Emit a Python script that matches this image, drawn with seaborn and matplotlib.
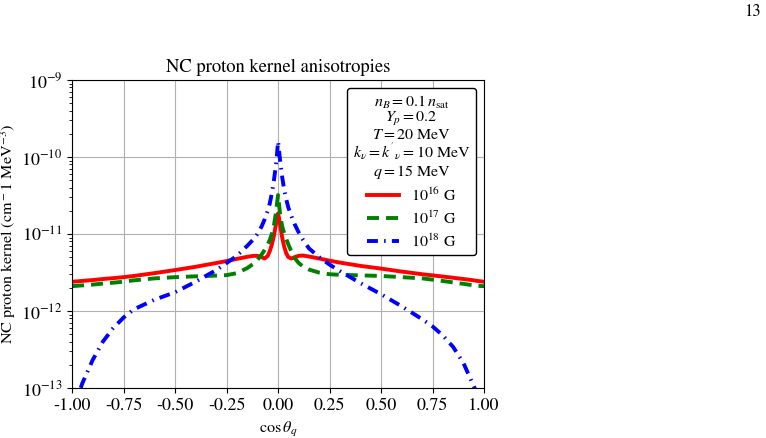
import matplotlib
matplotlib.use("Agg")
import matplotlib.pyplot as plt
import seaborn as sns
import pandas as pd

plt.rcParams["font.family"] = ["STIXGeneral", "DejaVu Serif"]
plt.rcParams["mathtext.fontset"] = "stix"
plt.rcParams["font.size"] = 12

# cos(theta_q) sample points
cos_theta = [-1.0, -0.97, -0.95, -0.9, -0.85, -0.8, -0.75, -0.7, -0.6, -0.5,
             -0.4, -0.3, -0.25, -0.2, -0.15, -0.12, -0.1, -0.08, -0.065, -0.05,
             -0.04, -0.03, -0.02, -0.01, -0.005, 0.0, 0.005, 0.01, 0.02, 0.03,
             0.04, 0.05, 0.065, 0.08, 0.1, 0.12, 0.15, 0.2, 0.25, 0.3,
             0.4, 0.5, 0.6, 0.7, 0.75, 0.8, 0.85, 0.9, 0.95, 0.97, 1.0]

# kernel for B = 1e16 G
k_b16 = [2.4e-12, 2.43e-12, 2.46e-12, 2.52e-12, 2.6e-12, 2.67e-12, 2.75e-12, 2.85e-12, 3.1e-12, 3.4e-12,
         3.75e-12, 4.2e-12, 4.45e-12, 4.75e-12, 5.05e-12, 5.2e-12, 5.2e-12, 5.0e-12, 4.8e-12, 5.2e-12,
         6.0e-12, 7.3e-12, 9.5e-12, 1.35e-11, 1.65e-11, 1.85e-11, 1.6e-11, 1.3e-11, 9.0e-12, 6.8e-12,
         5.6e-12, 5.0e-12, 4.8e-12, 5.0e-12, 5.2e-12, 5.25e-12, 5.1e-12, 4.8e-12, 4.5e-12, 4.25e-12,
         3.85e-12, 3.55e-12, 3.25e-12, 3.0e-12, 2.9e-12, 2.8e-12, 2.7e-12, 2.6e-12, 2.5e-12, 2.45e-12, 2.4e-12]

# kernel for B = 1e17 G
k_b17 = [2.1e-12, 2.13e-12, 2.15e-12, 2.2e-12, 2.27e-12, 2.33e-12, 2.4e-12, 2.5e-12, 2.65e-12, 2.75e-12,
         2.82e-12, 2.88e-12, 2.92e-12, 3.1e-12, 3.6e-12, 4.1e-12, 4.6e-12, 5.4e-12, 6.2e-12, 7.3e-12,
         8.4e-12, 1.0e-11, 1.3e-11, 1.9e-11, 2.5e-11, 3.2e-11, 2.4e-11, 1.8e-11, 1.25e-11, 1.02e-11,
         8.6e-12, 7.3e-12, 5.9e-12, 4.9e-12, 4.2e-12, 3.8e-12, 3.45e-12, 3.15e-12, 3.0e-12, 2.95e-12,
         2.9e-12, 2.85e-12, 2.75e-12, 2.65e-12, 2.55e-12, 2.45e-12, 2.35e-12, 2.25e-12, 2.15e-12, 2.12e-12, 2.1e-12]

# kernel for B = 1e18 G
k_b18 = [5.0e-14, 8.0e-14, 1.15e-13, 2.3e-13, 4.0e-13, 6.0e-13, 8.2e-13, 1.05e-12, 1.4e-12, 1.75e-12,
         2.4e-12, 3.4e-12, 4.2e-12, 5.2e-12, 7.0e-12, 8.5e-12, 1.0e-11, 1.25e-11, 1.55e-11, 2.0e-11,
         2.5e-11, 3.4e-11, 5.0e-11, 8.0e-11, 1.1e-10, 1.6e-10, 1.2e-10, 9.0e-11, 5.5e-11, 3.7e-11,
         2.8e-11, 2.2e-11, 1.7e-11, 1.35e-11, 1.05e-11, 8.5e-12, 6.5e-12, 5.0e-12, 4.0e-12, 3.3e-12,
         2.3e-12, 1.65e-12, 1.15e-12, 7.8e-13, 6.3e-13, 4.8e-13, 3.4e-13, 2.1e-13, 1.05e-13, 8.0e-14, 5.0e-14]

labels = ["$10^{16}$ G", "$10^{17}$ G", "$10^{18}$ G"]
colors = ["red", "green", "blue"]
styles = ["-", (0, (3.1, 1.8)), (0, (2.8, 1.6, 0.4, 1.6))]

legend_title = ("$n_B=0.1\\,n_{\\rm sat}$\n$Y_p=0.2$\n$T=20$ MeV\n"
                "$k_\\nu=k^{'}{}_\\nu=10$ MeV\n$q=15$ MeV")

fig = plt.figure(figsize=(7.66, 4.38), dpi=100)
ax = fig.add_axes([0.094, 0.1142, 0.538, 0.7032])

for ys, lab, c, ls in zip([k_b16, k_b17, k_b18], labels, colors, styles):
    df = pd.DataFrame({"cos": cos_theta, "k": ys})
    sns.lineplot(data=df, x="cos", y="k", color=c, linestyle=ls, lw=2.8,
                 label=lab, sort=False, ax=ax)

ax.set_yscale("log")
ax.set_xlim(-1, 1)
ax.set_ylim(1e-13, 1e-9)
ax.set_xticks([-1, -0.75, -0.5, -0.25, 0, 0.25, 0.5, 0.75, 1])
ax.xaxis.set_major_formatter(matplotlib.ticker.FormatStrFormatter("%.2f"))
ax.tick_params(axis="both", which="major", labelsize=13)
ax.grid(True, which="major", color="#b0b0b0", lw=0.8)
ax.set_title("NC proton kernel anisotropies", fontsize=13.4)
ax.set_xlabel("$\\cos\\theta_q$", fontsize=11.6)
ax.set_ylabel("NC proton kernel (cm$^-1$ MeV$^{-3}$)", fontsize=11.6)
ax.xaxis.set_label_coords(0.5, -0.105)
ax.yaxis.set_label_coords(-0.132, 0.5)

leg = ax.legend(loc="upper right", title=legend_title, edgecolor="black",
                framealpha=1, fontsize=11.5, title_fontsize=11.5,
                labelspacing=0.35, borderpad=0.35)
leg.get_title().set_multialignment("center")
leg.get_title().set_linespacing(0.95)

fig.text(0.982, 0.972, "13", ha="center", va="center", fontsize=12)

fig.savefig("out.png", dpi=100)
